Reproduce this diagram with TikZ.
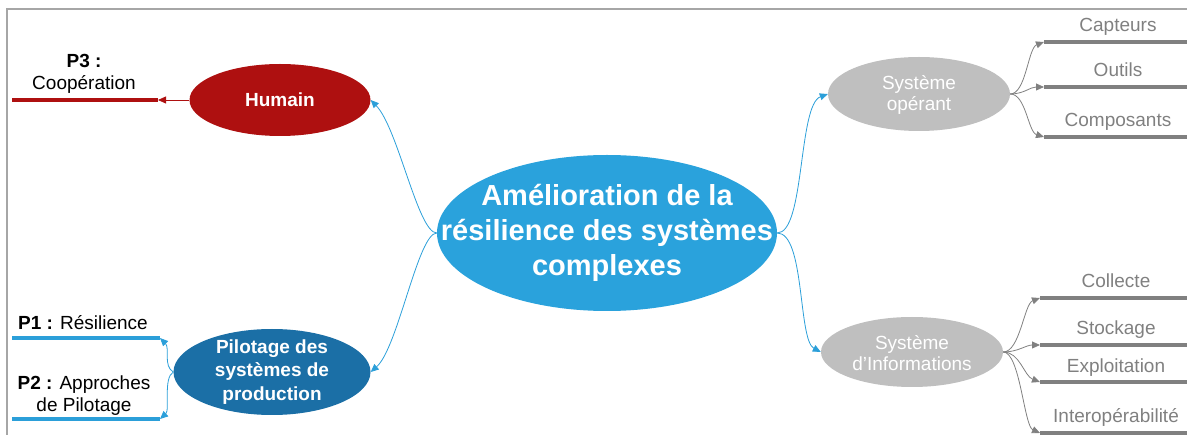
\documentclass[tikz,border=0pt]{standalone}
\usepackage{fontspec}
\setmainfont{Liberation Sans}
\usetikzlibrary{shapes.geometric,arrows.meta}
\definecolor{cblue}{HTML}{2AA2DC}
\definecolor{pblue}{HTML}{1B6FA6}
\definecolor{hred}{HTML}{AE1010}
\definecolor{sgray}{HTML}{BFBFBF}
\definecolor{lgray}{HTML}{808080}
\definecolor{fgray}{HTML}{A6A6A6}
\definecolor{lnblue}{HTML}{2B9FD9}
\begin{document}
\begin{tikzpicture}[x=1pt,y=-1pt,
  blob/.style={ellipse, inner sep=0pt, draw=none},
  tipc/.style={-{Triangle[length=8pt,width=7pt]}},
  bluelink/.style={tipc, draw=lnblue, line width=0.8pt},
  redlink/.style={tipc, draw=hred, line width=0.8pt},
  graylink/.style={tipc, draw=lgray, line width=0.8pt},
  bar/.style={line width=4pt},
  ctext/.style={text=white, font=\fontsize{29}{35}\selectfont\bfseries, align=center},
  btext/.style={text=white, font=\fontsize{19}{23.5}\selectfont\bfseries, align=center},
  gtext/.style={text=white, font=\fontsize{19}{21.5}\selectfont, align=center},
  ltext/.style={text=black, font=\fontsize{19}{22}\selectfont, align=center},
  rtext/.style={text=lgray, font=\fontsize{19}{22}\selectfont, text height=13.5pt, text depth=4pt, inner sep=0pt}
]
\useasboundingbox (0,0) rectangle (1187,435);
% frame
\draw[fgray, line width=1.5pt] (7,435) -- (7,9) -- (1187,9);

% central
\node[blob, fill=cblue, minimum width=340pt, minimum height=156pt] (c) at (607,233) {};
\node[ctext] (ct) at (607,233) {Amélioration de la\\résilience des systèmes\\complexes};

% Humain
\node[blob, fill=hred, minimum width=181pt, minimum height=72pt] (hum) at (280,100) {};
\node[btext] (humt) at (280,100) {Humain};

% Pilotage
\node[blob, fill=pblue, minimum width=197pt, minimum height=86pt] (pil) at (272,372) {};
\node[btext] (pilt) at (272,372) {Pilotage des\\systèmes de\\production};

% gray ellipses
\node[blob, fill=sgray, minimum width=182pt, minimum height=74pt] (so) at (919,94) {};
\node[gtext] (sot) at (919,95) {Système\\opérant};
\node[blob, fill=sgray, minimum width=182pt, minimum height=70pt] (si) at (912,352) {};
\node[gtext] (sit) at (912,353) {Système\\d’Informations};

% bar coordinates
\coordinate (p3a) at (158,100); \coordinate (p3b) at (12,100);
\coordinate (p1a) at (160,338); \coordinate (p1b) at (12,338);
\coordinate (p2a) at (160,419); \coordinate (p2b) at (12,419);

\coordinate (capa) at (1044,42);  \coordinate (capb) at (1187,42);
\coordinate (outa) at (1044,87);  \coordinate (outb) at (1187,87);
\coordinate (coma) at (1044,137); \coordinate (comb) at (1187,137);
\coordinate (cola) at (1040,298); \coordinate (colb) at (1187,298);
\coordinate (stoa) at (1040,345); \coordinate (stob) at (1187,345);
\coordinate (expa) at (1040,382); \coordinate (expb) at (1187,382);
\coordinate (inta) at (1040,433); \coordinate (intb) at (1187,433);

% bars
\draw[bar, hred] (p3b) -- (p3a);
\draw[bar, lnblue] (p1b) -- (p1a);
\draw[bar, lnblue] (p2b) -- (p2a);
\foreach \n in {cap,out,com,col,sto,exp,int}
  \draw[bar, lgray] (\n a) -- (\n b);

% left labels
\node[ltext] (p3t) at (84,74) {\textbf{P3 :}\\Coopération};
\node[ltext] (p1t) at (83,323) {\textbf{P1 :} Résilience};
\node[ltext] (p2t) at (84,396) {\textbf{P2 :} Approches\\de Pilotage};

% right labels
\node[rtext] (capt) at (1118,27) {Capteurs};
\node[rtext] (outt) at (1118,72) {Outils};
\node[rtext] (comt) at (1118,122) {Composants};
\node[rtext] (colt) at (1116,283) {Collecte};
\node[rtext] (stot) at (1116,330) {Stockage};
\node[rtext] (expt) at (1116,368) {Exploitation};
\node[rtext] (intt) at (1116,418) {Interopérabilité};

% connectors from center
\draw[bluelink] (c.west) .. controls (418,233) and (398,128) .. (hum.east);
\draw[bluelink] (c.west) .. controls (418,233) and (398,348) .. (pil.east);
\draw[bluelink] (c.east) .. controls (805,233) and (798,105) .. (so.west);
\draw[bluelink] (c.east) .. controls (805,233) and (798,340) .. (si.west);

% Humain
\draw[redlink] (hum.west) -- (p3a);

% Pilotage
\draw[bluelink] (pil.west) .. controls (163,366) and (170,348) .. (p1a);
\draw[bluelink] (pil.west) .. controls (163,378) and (170,410) .. (p2a);

% Systeme operant
\draw[graylink] (so.east) .. controls (1026,94) and (1028,48) .. (capa);
\draw[graylink] (so.east) .. controls (1024,94) and (1030,87) .. (outa);
\draw[graylink] (so.east) .. controls (1026,94) and (1028,132) .. (coma);

% Systeme d'informations
\draw[graylink] (si.east) .. controls (1020,352) and (1024,304) .. (cola);
\draw[graylink] (si.east) .. controls (1018,352) and (1026,345) .. (stoa);
\draw[graylink] (si.east) .. controls (1020,352) and (1024,376) .. (expa);
\draw[graylink] (si.east) .. controls (1020,352) and (1024,426) .. (inta);
\end{tikzpicture}
\end{document}
